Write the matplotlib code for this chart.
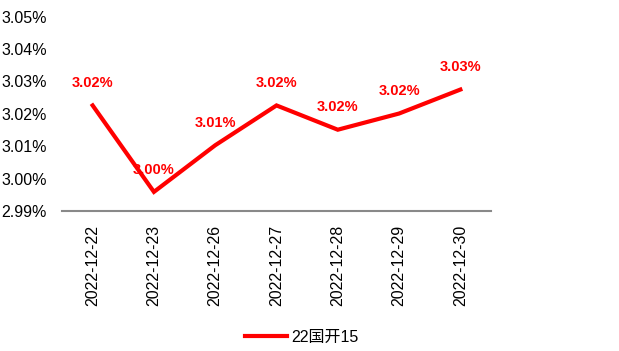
import numpy as np
from matplotlib import pyplot as plt
from matplotlib.ticker import FuncFormatter

plt.rcParams['font.family'] = ['Liberation Sans', 'Noto Sans CJK SC', 'DejaVu Sans']

dates = ['2022-12-22', '2022-12-23', '2022-12-26', '2022-12-27',
         '2022-12-28', '2022-12-29', '2022-12-30']
yields = [3.0226, 2.9959, 3.0103, 3.0226, 3.0151, 3.0201, 3.0275]
series_name = '22国开15'

fig = plt.figure(figsize=(6.19, 3.51), dpi=100)
ax = fig.add_axes([62 / 619, 1 - 211 / 351, 429 / 619, (211 - 16.7) / 351])

x = np.arange(len(dates))
ax.plot(x, yields, color='#ff0000', lw=3, label=series_name, solid_joinstyle='miter')
for xi, yi in zip(x, yields):
    ax.annotate(f'{yi:.2f}%', (xi, yi), xytext=(0, 16), textcoords='offset points',
                ha='center', va='center', color='#ff0000', fontsize=10.5, fontweight='bold')

ax.set_xlim(-0.5, len(dates) - 0.5)
ax.set_ylim(2.99, 3.05)
ax.set_yticks(np.arange(2.99, 3.0501, 0.01))
ax.yaxis.set_major_formatter(FuncFormatter(lambda v, p: f'{v:.2f}%'))
ax.set_xticks(x)
ax.set_xticklabels(dates, rotation=90)
ax.tick_params(length=0, labelsize=11.5)
ax.tick_params(axis='x', pad=10)
ax.tick_params(axis='y', pad=11)

for s in ['top', 'right', 'left']:
    ax.spines[s].set_visible(False)
ax.spines['bottom'].set_color('#898989')
ax.spines['bottom'].set_linewidth(1.5)

fig.legend(loc='center', bbox_to_anchor=(302 / 619, 1 - 337 / 351), frameon=False,
           fontsize=11.5, handlelength=2.6, handletextpad=0.3)

fig.savefig('out.png', dpi=100)
